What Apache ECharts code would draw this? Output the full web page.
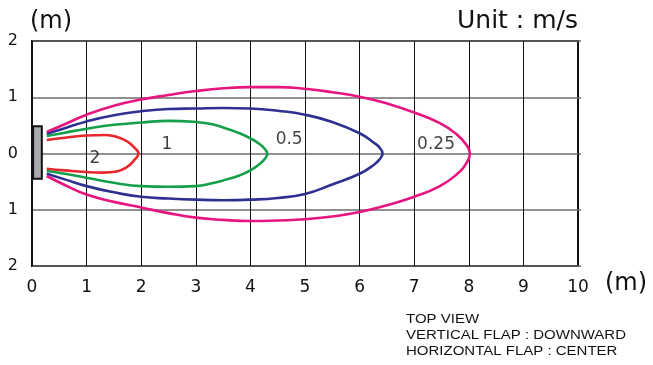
<!DOCTYPE html>
<html>
<head>
<meta charset="utf-8">
<script src="https://cdn.jsdelivr.net/npm/echarts@6/dist/echarts.min.js"></script>
<style>
html,body{margin:0;padding:0;background:#fff;}
#c{width:653px;height:365px;}
</style>
</head>
<body>
<div id="c"></div>
<script>
// ---- data ----
var xTicks = [0,1,2,3,4,5,6,7,8,9,10];
var yTickLabels = {'-2':'2','-1':'1','0':'0','1':'1','2':'2'};

var contourNames = ['2','1','0.5','0.25'];
var contourColors = ['#e8262c','#14a04b','#2e3192','#e6157f'];

var red2 = [[0.27,0.24],[0.6,0.28],[1.0,0.32],[1.35,0.33],[1.6,0.28],[1.75,0.21],[1.88,0.10],[1.95,0],
  [1.88,-0.11],[1.74,-0.24],[1.55,-0.32],[1.3,-0.34],[1.0,-0.33],[0.6,-0.30],[0.27,-0.27]];

var green1 = [[0.27,0.31],[0.6,0.37],[1.0,0.44],[1.5,0.51],[2.0,0.55],[2.5,0.58],[3.0,0.56],[3.3,0.52],
  [3.57,0.44],[3.8,0.36],[4.0,0.27],[4.18,0.16],[4.27,0.07],[4.31,0],[4.26,-0.1],[4.15,-0.2],[4.0,-0.3],
  [3.8,-0.39],[3.57,-0.46],[3.3,-0.53],[3.0,-0.58],[2.5,-0.59],[2.0,-0.58],[1.5,-0.52],[1.0,-0.43],
  [0.6,-0.36],[0.27,-0.31]];

var blue05 = [[0.27,0.35],[0.6,0.45],[1.0,0.57],[1.5,0.68],[2.0,0.75],[2.5,0.79],[3.0,0.80],[3.5,0.81],[4.0,0.80],
  [4.5,0.76],[5.0,0.69],[5.5,0.56],[6.0,0.36],[6.25,0.2],[6.37,0.1],[6.42,0],[6.37,-0.1],[6.25,-0.21],[6.0,-0.36],[5.5,-0.55],
  [5.0,-0.72],[4.5,-0.79],[4.0,-0.82],[3.5,-0.83],[3.0,-0.82],[2.5,-0.80],[2.0,-0.77],[1.5,-0.69],[1.0,-0.58],
  [0.6,-0.46],[0.27,-0.36]];

var magenta025 = [[0.27,0.385],[0.6,0.52],[1.0,0.69],[1.5,0.85],[2.0,0.96],[2.5,1.04],[3.0,1.11],[3.5,1.16],
  [4.0,1.18],[4.5,1.18],[5.0,1.15],[5.5,1.09],[6.0,1.01],[6.5,0.89],[7.0,0.73],[7.47,0.54],[7.78,0.34],
  [7.95,0.16],[8.02,0],[7.95,-0.18],[7.78,-0.37],[7.47,-0.58],[7.0,-0.77],[6.5,-0.92],[6.0,-1.04],
  [5.5,-1.12],[5.0,-1.17],[4.5,-1.19],[4.0,-1.20],[3.5,-1.18],[3.0,-1.14],[2.5,-1.06],[2.0,-0.96],
  [1.5,-0.86],[1.0,-0.73],[0.6,-0.56],[0.27,-0.40]];

var labelX = [1.15, 2.47, 4.71, 7.4];
var labelY = [-0.09, 0.16, 0.25, 0.16];

var unitRect = [0.02, 0.485, 0.18, -0.45]; // x0, y0, x1, y1 (data units)

// ---- chart ----
var chart = echarts.init(document.getElementById('c'), null, {renderer:'canvas'});
var curves = [red2, green1, blue05, magenta025];
var FONT = 'DejaVu Sans';

var series = [];
series.push({
  type:'custom', clip:false, z:3,
  data:[unitRect],
  encode:{x:[0,2], y:[1,3]},
  renderItem:function(params, api){
    var p1 = api.coord([api.value(0), api.value(1)]);
    var p2 = api.coord([api.value(2), api.value(3)]);
    return {type:'rect', shape:{x:p1[0], y:p1[1], width:p2[0]-p1[0], height:p2[1]-p1[1]},
      style:{fill:'#a7a9ac', stroke:'#111', lineWidth:2}};
  }
});
curves.forEach(function(d, i){
  series.push({
    type:'line', name:contourNames[i], data:d, showSymbol:false, smooth:0.5,
    lineStyle:{color:contourColors[i], width:2.6}, z:4, silent:true
  });
});
series.push({
  type:'scatter', symbolSize:0, z:5, silent:true,
  data: contourNames.map(function(n,i){ return [labelX[i], labelY[i], n]; }),
  label:{show:true, position:'inside', formatter:function(p){return p.value[2];},
    color:'#111', fontFamily:FONT, fontSize:17}
});

chart.setOption({
  animation:false,
  backgroundColor:'#fff',
  grid:{left:32, right:75, top:41, bottom:99, show:true, borderColor:'#111', borderWidth:2, backgroundColor:'transparent'},
  xAxis:{
    type:'value', min:0, max:10, interval:1,
    axisLine:{show:false},
    axisTick:{show:true, length:3, lineStyle:{color:'#111'}},
    splitLine:{show:true, lineStyle:{color:'#111', width:1}},
    axisLabel:{color:'#111', fontFamily:FONT, fontSize:17, margin:13,
      formatter:function(v){ return xTicks.indexOf(v) >= 0 ? String(v) : ''; }}
  },
  yAxis:[{
    type:'value', min:-2, max:2, interval:1,
    axisLine:{show:false}, axisTick:{show:false},
    splitLine:{show:true, lineStyle:{color:'#6d6d6d', width:1.5}},
    axisLabel:{color:'#111', fontFamily:FONT, fontSize:16, margin:14,
      formatter:function(v){ return yTickLabels[String(v)]; }}
  },{
    type:'value', min:-2, max:2, interval:1, position:'right',
    axisLine:{show:false}, axisLabel:{show:false}, splitLine:{show:false},
    axisTick:{show:true, length:3, lineStyle:{color:'#6d6d6d', width:1.5}}
  }],
  graphic:[
    {type:'text', left:30, top:10, style:{text:'(m)', font:'24px "DejaVu Sans"', fill:'#111'}},
    {type:'text', right:75, top:9, style:{text:'Unit : m/s', font:'25px "DejaVu Sans"', fill:'#111'}},
    {type:'text', left:605, top:272, style:{text:'(m)', font:'24px "DejaVu Sans"', fill:'#111'}},
    {type:'text', x:406, y:313, scaleX:1.2, style:{text:'TOP VIEW', font:'12.5px "Liberation Sans"', fill:'#111'}},
    {type:'text', x:406, y:329, scaleX:1.2, style:{text:'VERTICAL FLAP : DOWNWARD', font:'12.5px "Liberation Sans"', fill:'#111'}},
    {type:'text', x:406, y:345, scaleX:1.2, style:{text:'HORIZONTAL FLAP : CENTER', font:'12.5px "Liberation Sans"', fill:'#111'}}
  ],
  series:series
});
</script>
</body>
</html>
